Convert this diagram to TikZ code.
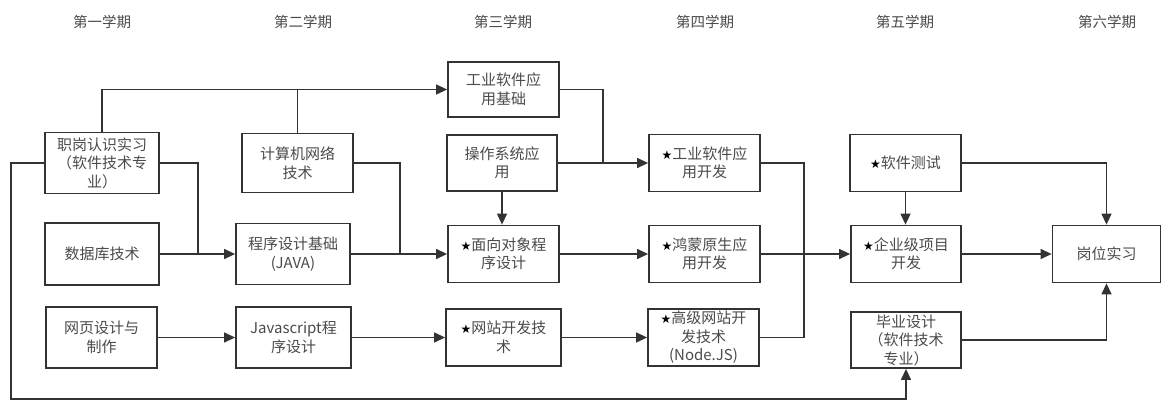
\documentclass[tikz,border=0pt]{standalone}
\usepackage{fontspec}
\setmainfont{Noto Sans CJK SC}
\newfontfamily\symfont{DejaVu Sans}
\usetikzlibrary{arrows.meta}
\definecolor{ln}{RGB}{51,51,51}
\definecolor{tx}{RGB}{75,75,75}
\newcommand{\st}{{\symfont\fontsize{12}{12}\selectfont\color{black}★}}
\begin{document}
\begin{tikzpicture}[x=1pt,y=-1pt,
 box/.style={draw=ln,line width=1.8pt,inner sep=0pt,align=center,text=tx,font=\fontsize{15}{18.5}\selectfont},
 conn/.style={draw=ln,line width=1.3pt},
 arr/.style={conn,-{Triangle[length=11pt,width=10pt]}},
 hdr/.style={text=tx,font=\fontsize{14.5}{16}\selectfont}]
\useasboundingbox (0,0) rectangle (1162,401);
\fill[white] (0,0) rectangle (1162,401);
% headers
\node[hdr] (h1) at (102,22) {第一学期};
\node[hdr] (h2) at (303,22) {第二学期};
\node[hdr] (h3) at (503,22) {第三学期};
\node[hdr] (h4) at (705,22) {第四学期};
\node[hdr] (h5) at (905,22) {第五学期};
\node[hdr] (h6) at (1107,22) {第六学期};
% boxes
\node[box,minimum width=114pt,minimum height=61pt] (zhigang) at (102,163) {职岗认识实习\\（软件技术专\\业）};
\node[box,minimum width=111pt,minimum height=59pt] (jisuanji) at (297.5,163) {计算机网络\\技术};
\node[box,minimum width=114pt,minimum height=62pt] (shujuku) at (102,254) {数据库技术};
\node[box,minimum width=114pt,minimum height=61pt] (chengxu) at (293,254) {程序设计基础\\(JAVA)};
\node[box,minimum width=111pt,minimum height=61pt] (wangye) at (101.5,337.5) {网页设计与\\制作};
\node[box,minimum width=115pt,minimum height=61pt] (js) at (293.5,337.5) {Javascript程\\序设计};
\node[box,minimum width=111pt,minimum height=55pt] (gongye) at (503.5,89.5) {工业软件应\\用基础};
\node[box,minimum width=110pt,minimum height=56pt] (caozuo) at (502,163) {操作系统应\\用};
\node[box,minimum width=111pt,minimum height=57pt] (mianxiang) at (503.5,254) {\st{}面向对象程\\序设计};
\node[box,minimum width=115pt,minimum height=57pt] (wangzhan) at (503.5,337.5) {\st{}网站开发技\\术};
\node[box,minimum width=111pt,minimum height=57pt] (gykf) at (704.5,163) {\st{}工业软件应\\用开发};
\node[box,minimum width=111pt,minimum height=57pt] (hongmeng) at (704.5,254) {\st{}鸿蒙原生应\\用开发};
\node[box,minimum width=111pt,minimum height=57pt] (gaoji) at (703.5,337.5) {\st{}高级网站开\\发技术\\(Node.JS)};
\node[box,minimum width=111pt,minimum height=57pt] (ceshi) at (905.5,163) {\st{}软件测试};
\node[box,minimum width=110pt,minimum height=57pt] (qiye) at (906,254) {\st{}企业级项目\\开发};
\node[box,minimum width=108pt,minimum height=57pt] (gangwei) at (1106.5,254) {岗位实习};
\node[box,minimum width=110pt,minimum height=56pt] (biye) at (906,340) {毕业设计\\（软件技术\\专业）};
% junction coordinates
\coordinate (j1) at (198,0);
\coordinate (j2) at (400,0);
\coordinate (j3) at (603,0);
\coordinate (j4) at (804,0);
\coordinate (b1) at (11,399);
% connectors
\draw[arr] (zhigang.north) |- (gongye.west);
\draw[conn] (jisuanji.north) -- (jisuanji.north |- gongye.west);
\draw[conn] (zhigang.east) -| (j1 |- chengxu.west);
\draw[arr] (shujuku.east) -- (chengxu.west);
\draw[arr] (zhigang.west) -| (b1) -| (biye.south);
\draw[conn] (jisuanji.east) -| (j2 |- mianxiang.west);
\draw[arr] (chengxu.east) -- (mianxiang.west);
\draw[arr] (wangye.east) -- (js.west);
\draw[arr] (js.east) -- (wangzhan.west);
\draw[arr] (wangzhan.east) -- (gaoji.west);
\draw[conn] (gongye.east) -| (j3 |- gykf.west);
\draw[arr] (caozuo.east) -- (gykf.west);
\draw[arr] (caozuo.south) -- (caozuo.south |- mianxiang.north);
\draw[arr] (mianxiang.east) -- (hongmeng.west);
\draw[conn] (gykf.east) -| (j4 |- gaoji.east) -- (gaoji.east);
\draw[arr] (hongmeng.east) -- (qiye.west);
\draw[arr] (ceshi.south) -- (ceshi.south |- qiye.north);
\draw[arr] (ceshi.east) -| (gangwei.north);
\draw[arr] (qiye.east) -- (gangwei.west);
\draw[arr] (biye.east) -| (gangwei.south);
\end{tikzpicture}
\end{document}
